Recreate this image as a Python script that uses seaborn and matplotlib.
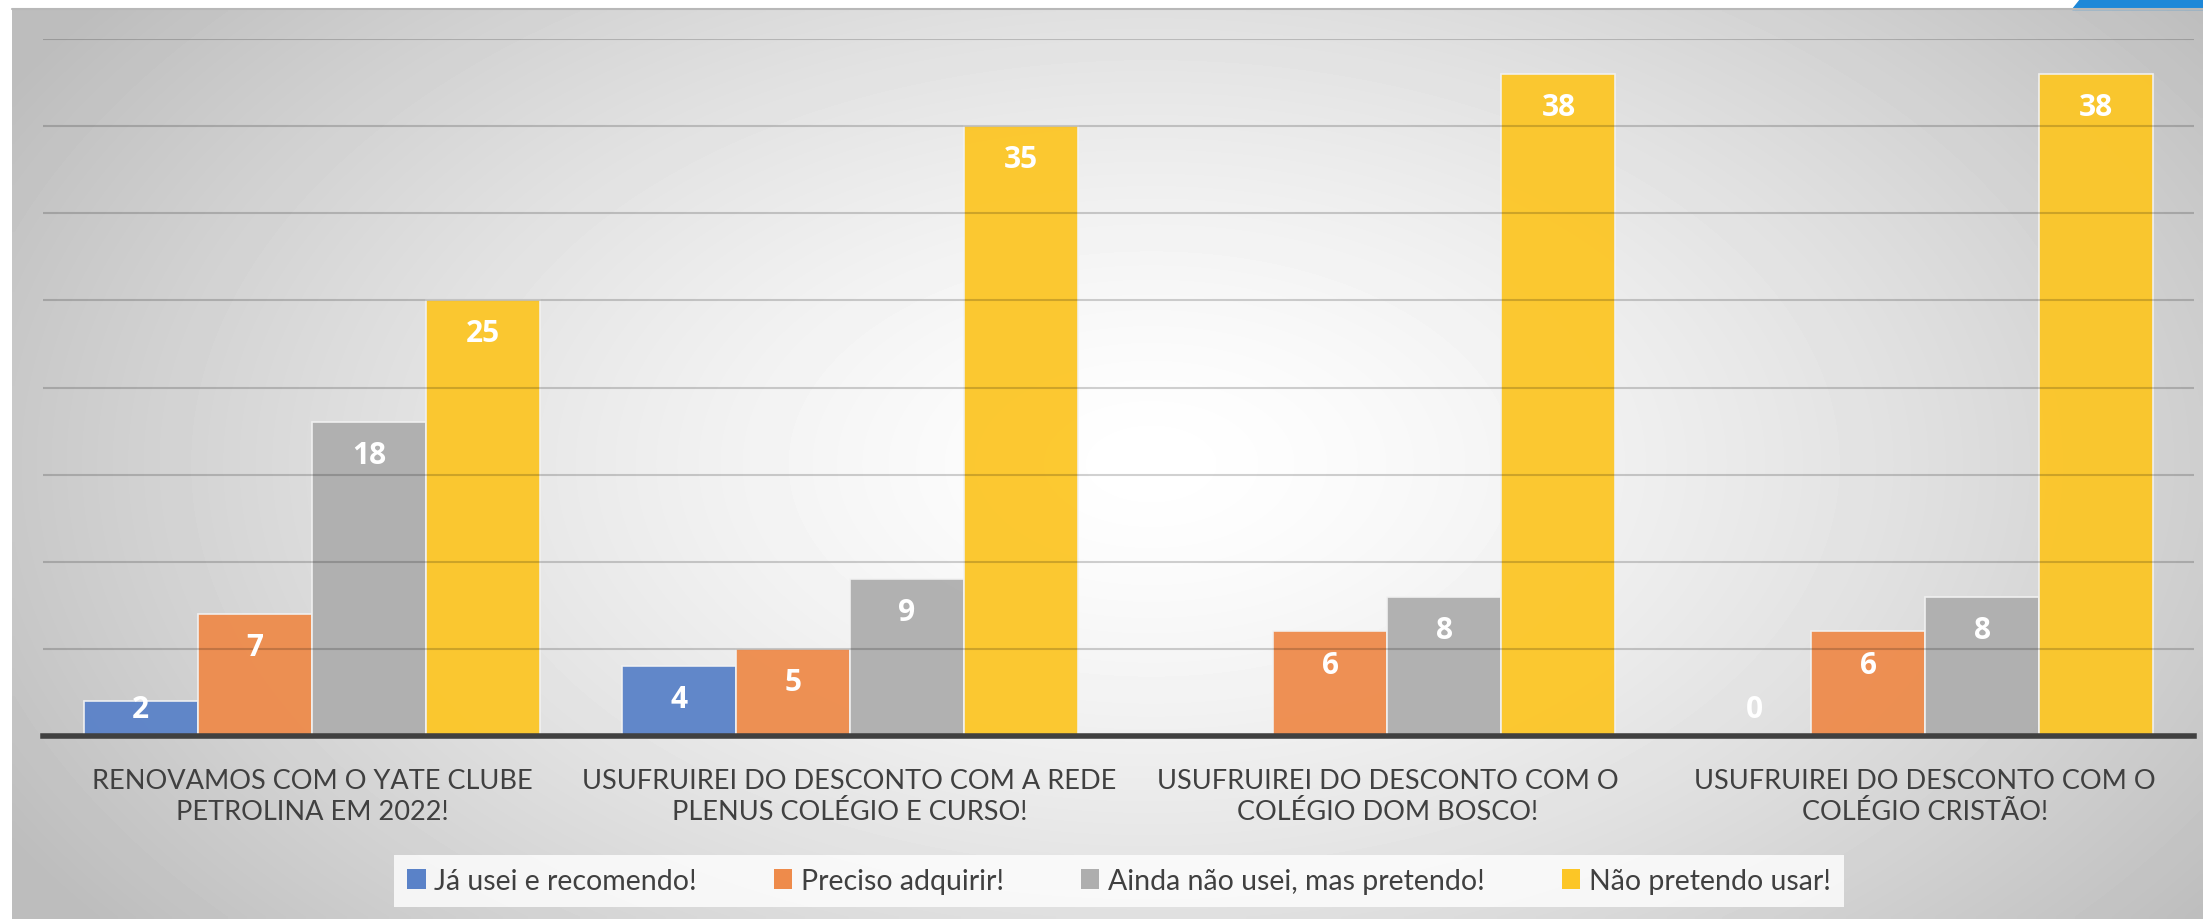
import numpy as np
import pandas as pd
import matplotlib
matplotlib.use("Agg")
import matplotlib.pyplot as plt
from matplotlib.patches import Polygon, Rectangle
import seaborn as sns

# ---- data ----
categories = [
    "RENOVAMOS COM O YATE CLUBE\nPETROLINA EM 2022!",
    "USUFRUIREI DO DESCONTO COM A REDE\nPLENUS COLÉGIO E CURSO!",
    "USUFRUIREI DO DESCONTO COM O\nCOLÉGIO DOM BOSCO!",
    "USUFRUIREI DO DESCONTO COM O\nCOLÉGIO CRISTÃO!",
]
series = ["Já usei e recomendo!", "Preciso adquirir!",
          "Ainda não usei, mas pretendo!", "Não pretendo usar!"]
ja_usei = [2, 4, np.nan, 0]
preciso = [7, 5, 6, 6]
ainda = [18, 9, 8, 8]
nao_pretendo = [25, 35, 38, 38]
colors = ["#5A82C8", "#EE8B4B", "#AEAEAE", "#FCC626"]

rows = []
for s, vals in zip(series, [ja_usei, preciso, ainda, nao_pretendo]):
    for c, v in zip(categories, vals):
        rows.append({"cat": c, "serie": s, "valor": v})
df = pd.DataFrame(rows)

sns.set_theme(style="white")
plt.rcParams["font.family"] = ["Lato", "DejaVu Sans"]

W, H = 2203, 920
fig = plt.figure(figsize=(W / 100, H / 100), dpi=100)
fig.patch.set_facecolor("white")

# background panel with radial gradient
bg = fig.add_axes([0, 0, 1, 1], zorder=-10)
bg.set_xlim(0, 1); bg.set_ylim(0, 1); bg.axis("off")
xx, yy = np.meshgrid(np.linspace(0, 1, 440), np.linspace(0, 1, 184))
d = np.sqrt(((xx - 0.52) / 0.60) ** 2 + ((yy - 0.50) / 0.85) ** 2)
val = 1.0 - 0.26 * np.clip(d, 0, 1) ** 1.4
x0, y1 = 12 / W, 1 - 10 / H
bg.imshow(val, cmap="gray", vmin=0, vmax=1, extent=[x0, 1, 0, y1],
          origin="lower", aspect="auto", interpolation="bilinear")
bg.plot([x0, 1], [y1, y1], color="#B8B8B8", lw=1.5)
bg.add_patch(Polygon([[2080 / W, 1], [1, 1], [1, 1 - 10 / H], [2072 / W, 1 - 10 / H]],
                     closed=True, color="#1E88D8"))

ax = fig.add_axes([43 / W, 1 - 737 / H, (2194 - 43) / W, (737 - 40) / H])
ax.set_facecolor("none")
sns.barplot(data=df, x="cat", y="valor", hue="serie", order=categories,
            hue_order=series, palette=colors, width=0.848, gap=0,
            errorbar=None, ax=ax, edgecolor="#F2F2F2", linewidth=1.2,
            saturation=1, alpha=0.95, zorder=2)

ax.set_ylim(0, 40)
ax.set_xlim(-0.5, 3.5)
ax.set_yticks(np.arange(5, 41, 5))
ax.yaxis.grid(True, color="black", alpha=0.18, lw=1.5, zorder=3)
ax.set_axisbelow(False)
for p in ax.patches:
    p.set_zorder(2)
ax.tick_params(axis="y", left=False, labelleft=False)
ax.tick_params(axis="x", bottom=False, pad=17, labelsize=19.5, labelcolor="#404040")
for s in ["top", "right", "left"]:
    ax.spines[s].set_visible(False)
ax.spines["bottom"].set_color("#404040")
ax.spines["bottom"].set_linewidth(4)
ax.spines["bottom"].set_zorder(5)
ax.set_xlabel("")
ax.set_ylabel("")
for lab in ax.get_xticklabels():
    lab.set_linespacing(1.3)

# data labels
for cont in ax.containers:
    for bar in cont:
        h = bar.get_height()
        if np.isnan(h):
            continue
        y = max(h - 1.9, 1.55)
        ax.text(bar.get_x() + bar.get_width() / 2, y, f"{int(round(h))}",
                ha="center", va="center", color="white", fontsize=21.5,
                fontweight="bold", family=["Open Sans", "DejaVu Sans"], zorder=6)

# legend
ax.legend_.remove()
handles = [Rectangle((0, 0), 1, 1, facecolor=c, edgecolor="none") for c in colors]
leg = fig.legend(handles, series, loc="center", bbox_to_anchor=(1119 / W, 1 - 882 / H),
                 ncol=4, frameon=True, fontsize=20.5, handlelength=0.65,
                 handleheight=0.65, handletextpad=0.3, columnspacing=2.7,
                 borderpad=0.45, borderaxespad=0, fancybox=False)
leg.get_frame().set_facecolor((1, 1, 1, 0.45))
leg.get_frame().set_edgecolor("none")
for t in leg.get_texts():
    t.set_color("#404040")

fig.savefig("out.png", dpi=100)
